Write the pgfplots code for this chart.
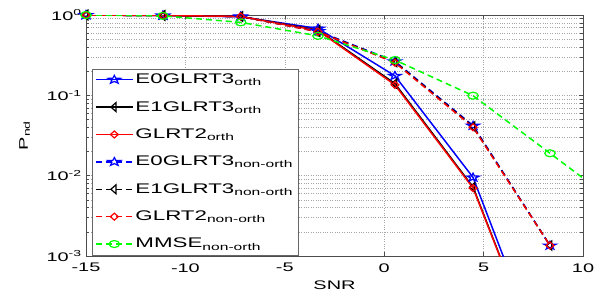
\documentclass[border=0pt]{standalone}
\usepackage{fontspec}
\setmainfont{Liberation Sans}[FakeStretch=1.6]
\usepackage{pgfplots}
\pgfplotsset{compat=1.18}
\pgfdeclareplotmark{pentagram}{%
  \pgfpathmoveto{\pgfpointpolar{90}{1.25\pgfplotmarksize}}%
  \pgfpathlineto{\pgfpointpolar{126}{0.5\pgfplotmarksize}}%
  \pgfpathlineto{\pgfpointpolar{162}{1.25\pgfplotmarksize}}%
  \pgfpathlineto{\pgfpointpolar{198}{0.5\pgfplotmarksize}}%
  \pgfpathlineto{\pgfpointpolar{234}{1.25\pgfplotmarksize}}%
  \pgfpathlineto{\pgfpointpolar{270}{0.5\pgfplotmarksize}}%
  \pgfpathlineto{\pgfpointpolar{306}{1.25\pgfplotmarksize}}%
  \pgfpathlineto{\pgfpointpolar{342}{0.5\pgfplotmarksize}}%
  \pgfpathlineto{\pgfpointpolar{18}{1.25\pgfplotmarksize}}%
  \pgfpathlineto{\pgfpointpolar{54}{0.5\pgfplotmarksize}}%
  \pgfpathclose\pgfusepathqstroke}
\begin{document}
\fontsize{12.5}{15}\selectfont
\begin{tikzpicture}
\useasboundingbox (-86bp,-37bp) rectangle (512bp,256bp);
\begin{axis}[
  scale only axis, width=497bp, height=241bp,
  xmin=-15, xmax=10, ymode=log, ymin=1e-3, ymax=1,
  xtick={-15,-10,-5,0,5,10}, xticklabels={-15,-10,-5,0,5,10},
  ytick={1e-3,1e-2,1e-1,1},
  yticklabels={10\textsuperscript{-3},10\textsuperscript{-2},10\textsuperscript{-1},10\textsuperscript{0}},
  grid=both,
  major grid style={black!35, dotted},
  minor grid style={black!35, dotted},
  tick align=inside,
  axis line style={black!70},
  every tick/.style={black!70},
  xticklabel style={yshift=-3bp},
  xlabel={SNR}, ylabel={P\textsubscript{nd}},
  ylabel style={yshift=8bp},
  legend style={at={(axis description cs:0.012,0.004)}, anchor=south west,
    draw=black!60, row sep=11.8bp, inner sep=3bp, font=\fontsize{14}{16}\selectfont},
  legend cell align=left,
  legend image code/.code={\draw[mark repeat=2,mark phase=2,#1] plot coordinates {(0cm,0cm) (0.65cm,0cm) (1.3cm,0cm)};},
  mark size=3.5pt,
  every axis plot/.append style={line width=1.5pt},
]
\addplot[blue, mark=pentagram, mark options={xscale=1.5,solid,line width=1.2pt}] coordinates {
 (-15,1.0) (-11.13,0.985) (-7.22,0.95) (-3.33,0.68) (0.54,0.175) (4.47,0.0095) (8.34,3e-5)};
\addlegendentry{E0GLRT3\textsubscript{orth}}
\addplot[black, mark=triangle, mark options={rotate=90,xscale=1.5,solid,line width=1.2pt}] coordinates {
 (-15,1.0) (-11.13,0.985) (-7.22,0.96) (-3.33,0.65) (0.54,0.14) (4.47,0.0072) (8.34,2.5e-5)};
\addlegendentry{E1GLRT3\textsubscript{orth}}
\addplot[red, mark=diamond, mark options={xscale=1.5,solid,line width=1.2pt}] coordinates {
 (-15,1.0) (-11.13,0.985) (-7.22,0.96) (-3.33,0.64) (0.54,0.135) (4.47,0.0070) (8.34,2.5e-5)};
\addlegendentry{GLRT2\textsubscript{orth}}
\addplot[blue, dash pattern=on 6bp off 4bp, mark=pentagram, mark options={xscale=1.5,solid,line width=1.2pt}] coordinates {
 (-15,1.0) (-11.13,0.985) (-7.22,0.96) (-3.33,0.63) (0.54,0.265) (4.47,0.042) (8.34,0.00135)};
\addlegendentry{E0GLRT3\textsubscript{non-orth}}
\addplot[black, dash pattern=on 6bp off 4bp, mark=triangle, mark options={rotate=90,xscale=1.5,solid,line width=1.2pt}] coordinates {
 (-15,1.0) (-11.13,0.985) (-7.22,0.96) (-3.33,0.62) (0.54,0.26) (4.47,0.041) (8.34,0.00135)};
\addlegendentry{E1GLRT3\textsubscript{non-orth}}
\addplot[red, dash pattern=on 6bp off 4bp, mark=diamond, mark options={xscale=1.5,solid,line width=1.2pt}] coordinates {
 (-15,1.0) (-11.13,0.985) (-7.22,0.96) (-3.33,0.62) (0.54,0.255) (4.47,0.040) (8.34,0.00135)};
\addlegendentry{GLRT2\textsubscript{non-orth}}
\addplot[green, dash pattern=on 6bp off 4bp, mark=o, mark options={xscale=1.5,solid,line width=1.2pt}] coordinates {
 (-15,1.0) (-11.13,0.975) (-7.22,0.81) (-3.33,0.55) (0.54,0.275) (4.47,0.099) (8.34,0.019) (12.23,0.0036)};
\addlegendentry{MMSE\textsubscript{non-orth}}
\end{axis}
\end{tikzpicture}
\end{document}
